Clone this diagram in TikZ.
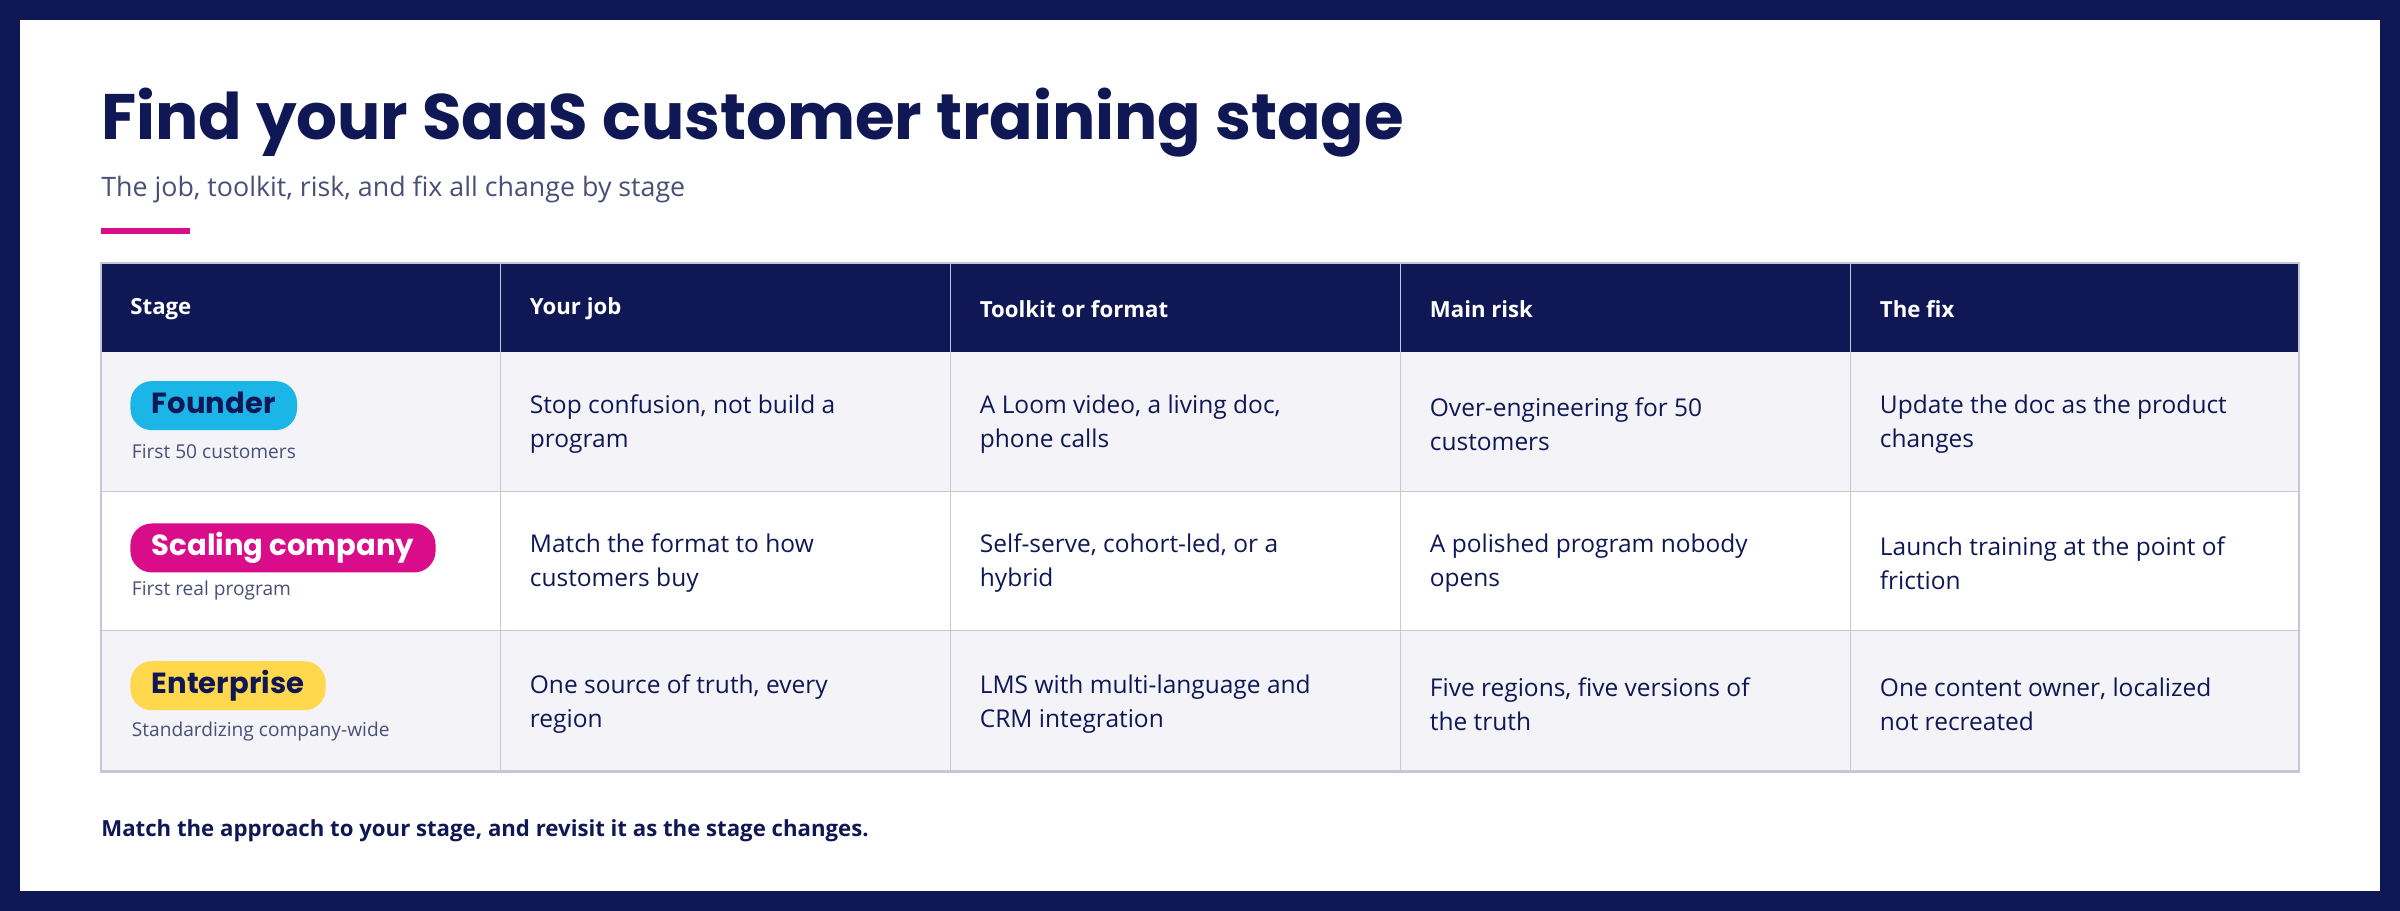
\documentclass[tikz,border=0pt]{standalone}
\usepackage{fontspec}
\setmainfont{Open Sans}
\newfontfamily\titlefont{Poppins}
\usetikzlibrary{positioning}
\definecolor{navy}{HTML}{0F1854}
\definecolor{rowgray}{HTML}{F3F3F8}
\definecolor{gridgray}{HTML}{C5C7D6}
\definecolor{subgray}{HTML}{4A4F78}
\definecolor{pinkline}{HTML}{D90C8A}
\definecolor{cyanbadge}{HTML}{1BB5E8}
\definecolor{yellowbadge}{HTML}{FFD84D}
\tikzset{
  cell/.style={anchor=west, align=left, inner sep=0pt, text=navy, font=\fontsize{16}{22}\selectfont},
  head/.style={anchor=west, inner sep=0pt, text=white, font=\fontsize{14.5}{18}\selectfont\bfseries},
  badge/.style={anchor=west, rounded corners=14pt, inner xsep=14pt, inner ysep=8pt, text height=13pt, text depth=3pt, font=\titlefont\fontsize{19}{22}\selectfont\bfseries},
  caption/.style={anchor=west, inner sep=0pt, text=subgray, font=\fontsize{12.5}{15}\selectfont}
}
\begin{document}
\begin{tikzpicture}[x=1pt,y=-1pt]
  % frame
  \fill[navy] (0,0) rectangle (1568,595);
  \fill[white] (13,13) rectangle (1555,582);
  \useasboundingbox (0,0) rectangle (1568,595);
  % title block
  \node[anchor=west, inner sep=0pt, text=navy, font=\titlefont\fontsize{42}{48}\selectfont\bfseries] (title) at (66,80) {Find your SaaS customer training stage};
  \node[anchor=west, inner sep=0pt, text=subgray, font=\fontsize{17.5}{22}\selectfont] (subtitle) at (66,124) {The job, toolkit, risk, and fix all change by stage};
  \draw[pinkline, line width=4pt] (66,151) -- (124,151);
  % table backgrounds
  \fill[navy] (66,172) rectangle (1502,230);
  \fill[rowgray] (66,230) rectangle (1502,321);
  \fill[rowgray] (66,412) rectangle (1502,504);
  \draw[gridgray] (66,321) -- (1502,321) (66,412) -- (1502,412);
  \foreach \cx in {327,621,915,1209}
    \draw[gridgray] (\cx,172) -- (\cx,504);
  \draw[gridgray, line width=1.5pt] (66,172) rectangle (1502,504);
  % header
  \node[head] (hstage) at (85,202) {Stage};
  \node[head] (hjob) at (346,202) {Your job};
  \node[head] (htool) at (640,202) {Toolkit or format};
  \node[head] (hrisk) at (934,202) {Main risk};
  \node[head] (hfix) at (1228,202) {The fix};
  % row 1
  \node[badge, fill=cyanbadge, text=navy] (founder) at (85,265) {Founder};
  \node[caption] at (86,295) {First 50 customers};
  \node[cell] at (346,277) {Stop confusion, not build a\\program};
  \node[cell] at (640,277) {A Loom video, a living doc,\\phone calls};
  \node[cell] at (934,277) {Over-engineering for 50\\customers};
  \node[cell] at (1228,277) {Update the doc as the product\\changes};
  % row 2
  \node[badge, fill=pinkline, text=white] (scaling) at (85,358) {Scaling company};
  \node[caption] at (86,386) {First real program};
  \node[cell] at (346,368) {Match the format to how\\customers buy};
  \node[cell] at (640,368) {Self-serve, cohort-led, or a\\hybrid};
  \node[cell] at (934,368) {A polished program nobody\\opens};
  \node[cell] at (1228,368) {Launch training at the point of\\friction};
  % row 3
  \node[badge, fill=yellowbadge, text=navy] (enterprise) at (85,448) {Enterprise};
  \node[caption] at (86,478) {Standardizing company-wide};
  \node[cell] at (346,460) {One source of truth, every\\region};
  \node[cell] at (640,460) {LMS with multi-language and\\CRM integration};
  \node[cell] at (934,460) {Five regions, five versions of\\the truth};
  \node[cell] at (1228,460) {One content owner, localized\\not recreated};
  % footer
  \node[anchor=west, inner sep=0pt, text=navy, font=\fontsize{14.5}{18}\selectfont\bfseries] (footer) at (66,543) {Match the approach to your stage, and revisit it as the stage changes.};
\end{tikzpicture}
\end{document}
